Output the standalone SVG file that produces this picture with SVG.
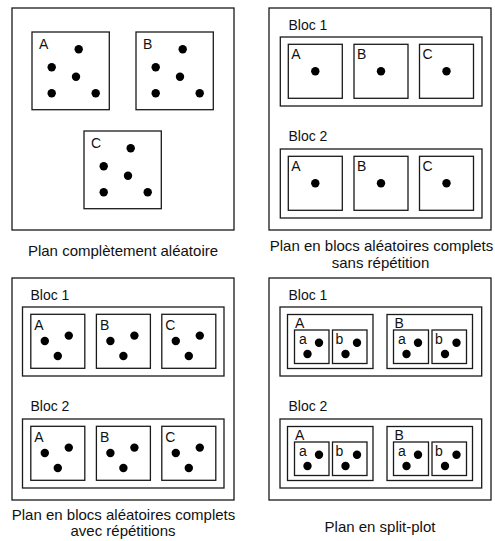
<svg xmlns="http://www.w3.org/2000/svg" width="495" height="541" viewBox="0 0 495 541">
<style>
rect{fill:#fff;stroke:#1a1a1a;stroke-width:1.3}
circle{fill:#000}
text{font-family:"Liberation Sans",Arial,sans-serif;fill:#111}
.lbl{font-size:14px}
.cap{font-size:15px;text-anchor:middle}
</style>
<defs>
<g id="dots5"><circle cx="46.7" cy="17.3" r="4.2"/><circle cx="19.7" cy="35.3" r="4.2"/><circle cx="44" cy="44.7" r="4.2"/><circle cx="19.7" cy="61.3" r="4.2"/><circle cx="63.7" cy="61.3" r="4.2"/></g>
<g id="dot1"><circle cx="27" cy="27" r="4.2"/></g>
<g id="dots3"><circle cx="14" cy="26.7" r="4.2"/><circle cx="38" cy="21.3" r="4.2"/><circle cx="27" cy="41.7" r="4.2"/></g>
<g id="dots2"><circle cx="24.5" cy="12.7" r="4.2"/><circle cx="13" cy="24" r="4.2"/></g>
</defs>

<g id="panel1" transform="translate(12,8)">
<rect x="0" y="0" width="222" height="222"/>
<g id="p1A" transform="translate(20,24)"><rect x="0" y="0" width="77.3" height="77.7"/><text class="lbl" x="7" y="17.3">A</text><use href="#dots5"/></g>
<g id="p1B" transform="translate(124,24)"><rect x="0" y="0" width="77.3" height="77.7"/><text class="lbl" x="7" y="17.3">B</text><use href="#dots5"/></g>
<g id="p1C" transform="translate(72,123)"><rect x="0" y="0" width="77.3" height="77.7"/><text class="lbl" x="7" y="17.3">C</text><use href="#dots5"/></g>
</g>
<text class="cap" x="123" y="255.5">Plan complètement aléatoire</text>

<g id="panel2" transform="translate(269,8)">
<rect x="0" y="0" width="222" height="222"/>
<g id="p2B1"><text class="lbl" x="19.5" y="21.5">Bloc 1</text><rect x="11.3" y="29" width="201.7" height="69"/>
<g transform="translate(19.3,36.3)"><rect width="54" height="54"/><text class="lbl" x="3" y="14.5">A</text><use href="#dot1"/></g>
<g transform="translate(85,36.3)"><rect width="54" height="54"/><text class="lbl" x="3" y="14.5">B</text><use href="#dot1"/></g>
<g transform="translate(150.5,36.3)"><rect width="54" height="54"/><text class="lbl" x="3" y="14.5">C</text><use href="#dot1"/></g></g>
<g id="p2B2"><text class="lbl" x="19.5" y="132.5">Bloc 2</text><rect x="11.3" y="141" width="201.7" height="69"/>
<g transform="translate(19.3,148.3)"><rect width="54" height="54"/><text class="lbl" x="3" y="14.5">A</text><use href="#dot1"/></g>
<g transform="translate(85,148.3)"><rect width="54" height="54"/><text class="lbl" x="3" y="14.5">B</text><use href="#dot1"/></g>
<g transform="translate(150.5,148.3)"><rect width="54" height="54"/><text class="lbl" x="3" y="14.5">C</text><use href="#dot1"/></g></g>
</g>
<text class="cap" x="381.5" y="251">Plan en blocs aléatoires complets</text>
<text class="cap" x="380.5" y="267.5">sans répétition</text>

<g id="panel3" transform="translate(12,278)">
<rect x="0" y="0" width="222" height="222"/>
<g id="p3B1"><text class="lbl" x="18.5" y="21.5">Bloc 1</text><rect x="10.5" y="29" width="201.5" height="69"/>
<g transform="translate(18.8,36.3)"><rect width="54" height="54"/><text class="lbl" x="3.5" y="15.5">A</text><use href="#dots3"/></g>
<g transform="translate(84.4,36.3)"><rect width="54" height="54"/><text class="lbl" x="3.5" y="15.5">B</text><use href="#dots3"/></g>
<g transform="translate(149.8,36.3)"><rect width="54" height="54"/><text class="lbl" x="3.5" y="15.5">C</text><use href="#dots3"/></g></g>
<g id="p3B2"><text class="lbl" x="18.5" y="132.5">Bloc 2</text><rect x="10.5" y="141" width="201.5" height="69"/>
<g transform="translate(18.8,148.3)"><rect width="54" height="54"/><text class="lbl" x="3.5" y="15.5">A</text><use href="#dots3"/></g>
<g transform="translate(84.4,148.3)"><rect width="54" height="54"/><text class="lbl" x="3.5" y="15.5">B</text><use href="#dots3"/></g>
<g transform="translate(149.8,148.3)"><rect width="54" height="54"/><text class="lbl" x="3.5" y="15.5">C</text><use href="#dots3"/></g></g>
</g>
<text class="cap" x="123.5" y="519.5">Plan en blocs aléatoires complets</text>
<text class="cap" x="123" y="536">avec répétitions</text>

<g id="panel4" transform="translate(269,278)">
<rect x="0" y="0" width="222" height="222"/>
<g id="p4B1"><text class="lbl" x="19.5" y="21.5">Bloc 1</text><rect x="11" y="29" width="201.7" height="69"/>
<g transform="translate(18.5,36.5)"><rect width="85.5" height="54"/><text class="lbl" x="7.5" y="13.2">A</text>
<g transform="translate(7,15.5)"><rect width="34.5" height="33.5"/><text class="lbl" x="4.5" y="14.3">a</text><use href="#dots2"/></g>
<g transform="translate(45,15.5)"><rect width="34.5" height="33.5"/><text class="lbl" x="3" y="14.3">b</text><use href="#dots2"/></g></g>
<g transform="translate(118,36.5)"><rect width="85.5" height="54"/><text class="lbl" x="7.5" y="13.2">B</text>
<g transform="translate(6.5,15.5)"><rect width="35" height="33.5"/><text class="lbl" x="4.5" y="14.3">a</text><use href="#dots2"/></g>
<g transform="translate(45,15.5)"><rect width="34.5" height="33.5"/><text class="lbl" x="3" y="14.3">b</text><use href="#dots2"/></g></g></g>
<g id="p4B2"><text class="lbl" x="19.5" y="132.5">Bloc 2</text><rect x="11" y="141" width="201.7" height="69"/>
<g transform="translate(18.5,148.5)"><rect width="85.5" height="54"/><text class="lbl" x="7.5" y="13.2">A</text>
<g transform="translate(7,15.5)"><rect width="34.5" height="33.5"/><text class="lbl" x="4.5" y="14.3">a</text><use href="#dots2"/></g>
<g transform="translate(45,15.5)"><rect width="34.5" height="33.5"/><text class="lbl" x="3" y="14.3">b</text><use href="#dots2"/></g></g>
<g transform="translate(118,148.5)"><rect width="85.5" height="54"/><text class="lbl" x="7.5" y="13.2">B</text>
<g transform="translate(6.5,15.5)"><rect width="35" height="33.5"/><text class="lbl" x="4.5" y="14.3">a</text><use href="#dots2"/></g>
<g transform="translate(45,15.5)"><rect width="34.5" height="33.5"/><text class="lbl" x="3" y="14.3">b</text><use href="#dots2"/></g></g></g>
</g>
<text class="cap" x="380" y="532">Plan en split-plot</text>
</svg>
